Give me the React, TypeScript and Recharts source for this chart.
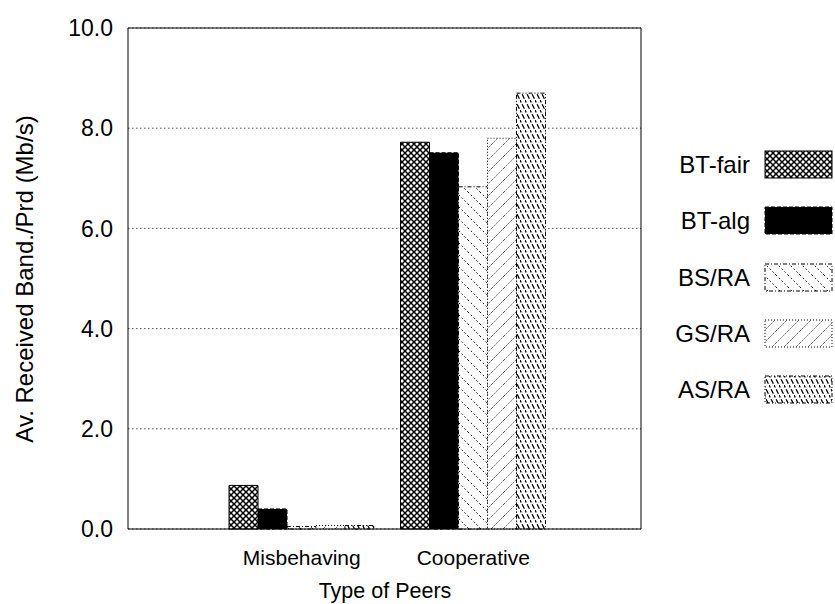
import { BarChart, Bar, XAxis, YAxis, CartesianGrid, Label } from 'recharts'

const categories = ['Misbehaving', 'Cooperative']
const seriesNames = ['BT-fair', 'BT-alg', 'BS/RA', 'GS/RA', 'AS/RA']
const btFair = [0.87, 7.72]
const btAlg = [0.4, 7.51]
const bsRa = [0.05, 6.83]
const gsRa = [0.07, 7.8]
const asRa = [0.07, 8.7]
const yTicks = [0, 2, 4, 6, 8, 10]

const seriesValues = [btFair, btAlg, bsRa, gsRa, asRa]
const keys = ['btFair', 'btAlg', 'bsRa', 'gsRa', 'asRa']

const data = categories.map((name, i) => {
  const row: Record<string, string | number> = { name }
  keys.forEach((k, s) => {
    row[k] = seriesValues[s][i]
  })
  return row
})

const styles = [
  { fill: 'url(#pat-xhatch)', dash: undefined },
  { fill: '#000', dash: '4 2' },
  { fill: 'url(#pat-bs)', dash: '4 2 1 2' },
  { fill: 'url(#pat-gs)', dash: '1 2' },
  { fill: 'url(#pat-as)', dash: '4 2 1 2 1 2' },
]

const font = '"Liberation Sans", Arial, sans-serif'

function Patterns() {
  return (
    <defs>
      <pattern id="pat-xhatch" width="6" height="6" patternUnits="userSpaceOnUse">
        <rect width="6" height="6" fill="#fff" />
        <path d="M0,0 L6,6 M6,0 L0,6" stroke="#000" strokeWidth="1.5" />
      </pattern>
      <pattern id="pat-bs" width="12" height="12" patternUnits="userSpaceOnUse">
        <rect width="12" height="12" fill="#fff" />
        <path d="M0,0 L12,12 M-3,9 L3,15 M9,-3 L15,3" stroke="#000" strokeWidth="1" strokeDasharray="1.5 2.5" />
      </pattern>
      <pattern id="pat-gs" width="12" height="12" patternUnits="userSpaceOnUse">
        <rect width="12" height="12" fill="#fff" />
        <path d="M0,12 L12,0 M-3,3 L3,-3 M9,15 L15,9" stroke="#555" strokeWidth="0.9" strokeDasharray="2 1" />
      </pattern>
      <pattern id="pat-as" width="5" height="10" patternUnits="userSpaceOnUse">
        <rect width="5" height="10" fill="#fff" />
        <path d="M-1,-2 L6,12" stroke="#000" strokeWidth="1.3" strokeDasharray="5 2" />
      </pattern>
    </defs>
  )
}

function LegendBox() {
  return (
    <div style={{ position: 'absolute', left: 640, top: 0, width: 195 }}>
      {seriesNames.map((name, i) => {
        const cy = 165 + i * 56.3
        return (
          <div key={name} style={{ position: 'absolute', top: cy - 15, left: 0, height: 30, width: 195 }}>
            <span
              style={{
                position: 'absolute',
                right: 85,
                top: 0,
                lineHeight: '30px',
                fontFamily: font,
                fontSize: 24,
                color: '#000',
                whiteSpace: 'nowrap',
              }}
            >
              {name}
            </span>
            <svg width={70} height={30} style={{ position: 'absolute', left: 124, top: 0 }}>
              <rect
                x={1}
                y={1}
                width={67}
                height={27}
                fill={styles[i].fill}
                stroke="#000"
                strokeWidth={1}
                strokeDasharray={styles[i].dash}
              />
            </svg>
          </div>
        )
      })}
    </div>
  )
}

export default function App() {
  return (
    <div style={{ position: 'absolute', left: 0, top: 0, width: 835, height: 604, background: '#fff' }}>
      <BarChart
        width={835}
        height={604}
        data={data}
        margin={{ top: 28, right: 194, left: 0, bottom: 0 }}
        barGap={0}
        barSize={29}
      >
        <Patterns />
        <CartesianGrid vertical={false} stroke="#555" strokeDasharray="1.5 2.5" />
        <XAxis
          dataKey="name"
          height={75}
          padding={{ left: 88, right: 82 }}
          stroke="#000"
          tickLine={false}
          tickMargin={15}
          tick={{ fill: '#000', fontSize: 21, fontFamily: font }}
        >
          <Label
            content={() => (
              <text x={385} y={598} textAnchor="middle" fontSize={21.5} fontFamily={font} fill="#000">
                Type of Peers
              </text>
            )}
          />
        </XAxis>
        <XAxis xAxisId="top" dataKey="name" orientation="top" mirror tick={false} tickLine={false} stroke="#000" padding={{ left: 88, right: 82 }} />
        <YAxis
          width={128}
          domain={[0, 10]}
          ticks={yTicks}
          interval={0}
          tickFormatter={(v: number) => v.toFixed(1)}
          stroke="#000"
          tickLine={false}
          tickMargin={9}
          tick={{ fill: '#000', fontSize: 23, fontFamily: font }}
        >
          <Label
            content={() => (
              <text
                x={0}
                y={0}
                transform="translate(33, 279) rotate(-90)"
                textAnchor="middle"
                fontSize={24}
                fontFamily={font}
                fill="#000"
              >
                Av. Received Band./Prd (Mb/s)
              </text>
            )}
          />
        </YAxis>
        <YAxis yAxisId="lm" orientation="left" mirror domain={[0, 10]} ticks={yTicks} tick={false} tickSize={7} axisLine={false} stroke="#000" />
        <YAxis yAxisId="r" orientation="right" mirror domain={[0, 10]} ticks={yTicks} tick={false} tickSize={7} stroke="#000" />
        {keys.map((k, i) => (
          <Bar
            key={k}
            dataKey={k}
            name={seriesNames[i]}
            fill={styles[i].fill}
            stroke="#000"
            strokeWidth={1}
            strokeDasharray={styles[i].dash}
            isAnimationActive={false}
          />
        ))}
      </BarChart>
      <LegendBox />
    </div>
  )
}
